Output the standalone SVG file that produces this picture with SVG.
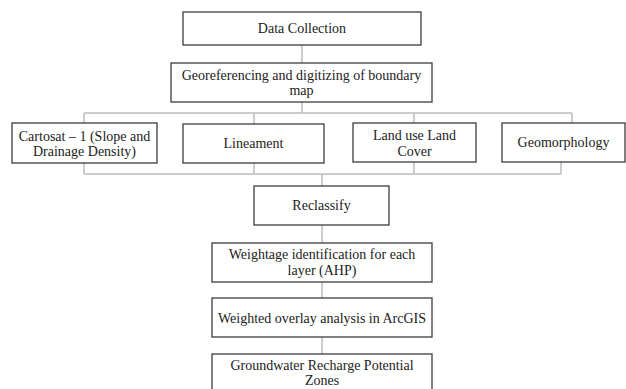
<svg xmlns="http://www.w3.org/2000/svg" width="626" height="389" viewBox="0 0 626 389">
<style>
.box{fill:#fff;stroke:#3c3c3c;stroke-width:1.3}
.t{font-family:"Liberation Serif","Times New Roman",serif;font-size:14px;fill:#222;text-anchor:middle}
.c{fill:none;stroke:#bdbdbd;stroke-width:1.5}
</style>
<rect width="626" height="389" fill="#fff"/>
<g id="connectors">
<path class="c" d="M302 45V63M302 102V113M84 113H572M84 113V123M254 113V124M414 113V123M572 113V123"/>
<path class="c" d="M84 163V174M254 163V174M414 162V174M561 162V174M84 174H561M322 174V186"/>
<path class="c" d="M322 225V243M322 282V298M322 337V354"/>
</g>
<g id="data-collection"><rect class="box" x="183" y="12" width="238" height="33"/><text class="t" x="302" y="33">Data Collection</text></g>
<g id="georeferencing"><rect class="box" x="171" y="63" width="261" height="39"/><text class="t" x="301.5" y="80">Georeferencing and digitizing of boundary</text><text class="t" x="301.5" y="95">map</text></g>
<g id="cartosat"><rect class="box" x="12" y="123" width="145" height="40"/><text class="t" x="84.5" y="141">Cartosat – 1 (Slope and</text><text class="t" x="84.5" y="156">Drainage Density)</text></g>
<g id="lineament"><rect class="box" x="183" y="124" width="141" height="39"/><text class="t" x="253.5" y="148">Lineament</text></g>
<g id="land-use"><rect class="box" x="353" y="123" width="123" height="39"/><text class="t" x="414.5" y="140">Land use Land</text><text class="t" x="414.5" y="156">Cover</text></g>
<g id="geomorphology"><rect class="box" x="502" y="123" width="123" height="39"/><text class="t" x="563.5" y="147">Geomorphology</text></g>
<g id="reclassify"><rect class="box" x="254" y="186" width="135" height="39"/><text class="t" x="321.5" y="210">Reclassify</text></g>
<g id="weightage"><rect class="box" x="212" y="243" width="220" height="39"/><text class="t" x="322" y="259">Weightage identification for each</text><text class="t" x="322" y="275">layer (AHP)</text></g>
<g id="weighted-overlay"><rect class="box" x="212" y="298" width="220" height="39"/><text class="t" x="322" y="323">Weighted overlay analysis in ArcGIS</text></g>
<g id="groundwater"><rect class="box" x="212" y="354" width="220" height="45"/><text class="t" x="322" y="370">Groundwater Recharge Potential</text><text class="t" x="322" y="385">Zones</text></g>
</svg>
